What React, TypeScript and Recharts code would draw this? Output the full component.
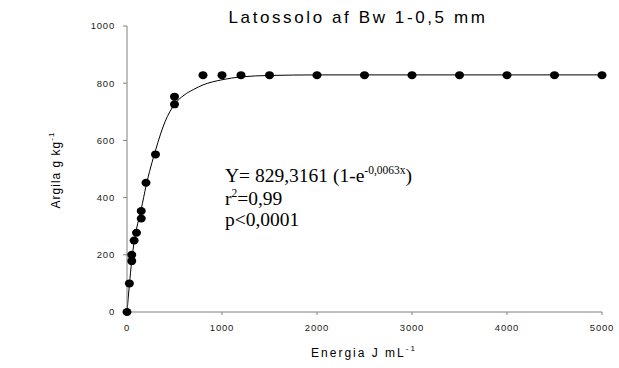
import React from 'react';
import {
  ComposedChart,
  XAxis,
  YAxis,
  Scatter,
  Line,
  Customized,
} from 'recharts';

// measured points (energy J/mL vs clay g/kg)
const energy = [0, 25, 50, 50, 75, 100, 150, 150, 200, 300, 500, 500, 800, 1000, 1200, 1500, 2000, 2500, 3000, 3500, 4000, 4500, 5000];
const clay = [0, 100, 200, 178, 250, 277, 353, 327, 452, 551, 753, 726, 828, 828, 828, 828, 828, 828, 828, 828, 828, 828, 828];

// fitted curve
const curveX = [0, 25, 50, 75, 100, 150, 200, 300, 400, 500, 600, 700, 800, 1000, 1200, 1500, 2000, 5000];
const curveY = [0, 95, 180, 245, 290, 360, 440, 565, 665, 726, 758, 778, 794, 812, 822, 827, 829, 829];

const xTicks = [0, 1000, 2000, 3000, 4000, 5000];
const yTicks = [0, 200, 400, 600, 800, 1000];

const points = energy.map((x, i) => ({ x, y: clay[i] }));
const curve = curveX.map((x, i) => ({ x, y: curveY[i] }));

const AXIS = '#808080';
const SANS = 'Arial, "Liberation Sans", sans-serif';
const SERIF = '"Times New Roman", "Liberation Serif", serif';

const tickStyle = { fontSize: 9.5, fill: '#222', fontFamily: SANS, letterSpacing: 0.8 };

const Dot = (props: any) => (
  <ellipse cx={props.cx} cy={props.cy} rx={4.5} ry={4} fill="#000" />
);

const Texts = () => (
  <g>
    <text x={358} y={23} textAnchor="middle" fontFamily={SANS} fontSize={17} letterSpacing={2.6} fill="#000">
      Latossolo af Bw 1-0,5 mm
    </text>
    <text x={364} y={357} textAnchor="middle" fontFamily={SANS} fontSize={12} letterSpacing={2} fill="#000">
      Energia J mL<tspan fontSize={8} dy={-6}>-1</tspan>
    </text>
    <text
      transform="translate(60,170) rotate(-90)"
      textAnchor="middle"
      fontFamily={SANS}
      fontSize={12}
      letterSpacing={1}
      fill="#000"
    >
      Argila g kg<tspan fontSize={8} dy={-6}>-1</tspan>
    </text>
    <g fontFamily={SERIF} fontSize={19.5} fill="#000">
      <text x={225} y={182}>
        Y= 829,3161 (1-e<tspan fontSize={11.5} dy={-8}>-0,0063x</tspan>
        <tspan dy={8}>)</tspan>
      </text>
      <text x={225} y={205}>
        r<tspan fontSize={11.5} dy={-8}>2</tspan>
        <tspan dy={8}>=0,99</tspan>
      </text>
      <text x={225} y={226}>p&lt;0,0001</text>
    </g>
  </g>
);

export default function App() {
  return (
    <div style={{ position: 'absolute', left: 0, top: 0, background: '#fff' }}>
      <ComposedChart
        width={619}
        height={368}
        margin={{ top: 26, right: 17, bottom: 0, left: 0 }}
      >
        <XAxis
          type="number"
          dataKey="x"
          domain={[0, 5000]}
          ticks={xTicks}
          interval={0}
          height={56}
          stroke={AXIS}
          tickSize={3}
          tickMargin={9}
          tick={tickStyle}
        />
        <YAxis
          type="number"
          dataKey="y"
          domain={[0, 1000]}
          ticks={yTicks}
          interval={0}
          width={127}
          stroke={AXIS}
          tickSize={4}
          tickMargin={8}
          tick={tickStyle}
        />
        <Line
          data={curve}
          dataKey="y"
          type="monotone"
          stroke="#000"
          strokeWidth={1}
          dot={false}
          activeDot={false}
          isAnimationActive={false}
        />
        <Scatter data={points} dataKey="y" fill="#000" shape={<Dot />} isAnimationActive={false} />
        <Customized component={Texts} />
      </ComposedChart>
    </div>
  );
}
